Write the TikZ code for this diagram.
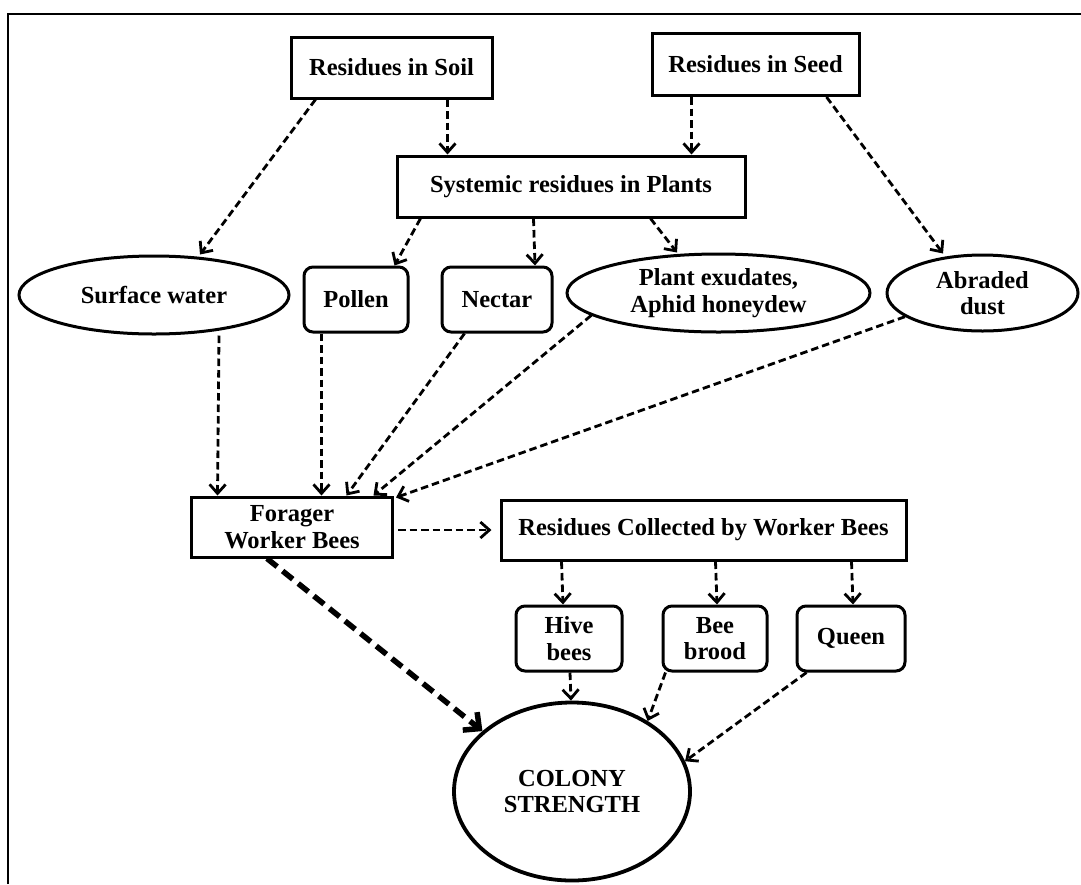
\documentclass[tikz,border=0pt]{standalone}
\usepackage{fontspec}
\setmainfont{Liberation Serif}
\usetikzlibrary{arrows.meta,shapes.geometric}
\begin{document}
\begin{tikzpicture}[x=1pt,y=-1pt,
  lbl/.style={font=\fontsize{24.5}{26.5}\selectfont\bfseries, align=center, inner sep=0pt, line width=3pt, draw, fill=white},
  sqbox/.style={lbl, rectangle},
  rbox/.style={lbl, rectangle, rounded corners=9pt},
  ell/.style={lbl, ellipse},
  arr/.style={line width=2.8pt, dash pattern=on 7.5pt off 4pt, -{Straight Barb[length=9pt,width=16pt]}},
  bigarr/.style={line width=5.5pt, dash pattern=on 13pt off 7pt, -{Straight Barb[length=12pt,width=23pt]}},
]
\useasboundingbox (0,0) rectangle (1081,884);
\fill[white] (0,0) rectangle (1081,884);
\draw[line width=2.2pt] (8,884) -- (8,14) -- (1081,14);

\node[sqbox, minimum width=201pt, minimum height=61pt] (soil) at (391.5,67.5) {Residues in Soil};
\node[sqbox, minimum width=207pt, minimum height=62pt] (seed) at (755.5,64.5) {Residues in Seed};
\node[sqbox, minimum width=348pt, minimum height=61pt] (sys) at (571,186.5) {Systemic residues in Plants};
\node[ell, minimum width=270pt, minimum height=78pt] (surf) at (154,295) {Surface water};
\node[rbox, minimum width=104pt, minimum height=65pt] (pollen) at (356,299.5) {Pollen};
\node[rbox, minimum width=110pt, minimum height=65pt] (nectar) at (497,299.5) {Nectar};
\node[ell, minimum width=303pt, minimum height=78pt] (plant) at (718.5,293) {Plant exudates,\\Aphid honeydew};
\node[ell, minimum width=191pt, minimum height=76pt] (dust) at (982.5,293) {Abraded\\dust};
\node[sqbox, minimum width=201pt, minimum height=60pt] (forager) at (292,527) {Forager\\Worker Bees};
\node[sqbox, minimum width=405pt, minimum height=60pt] (coll) at (703.5,530) {Residues Collected by Worker Bees};
\node[rbox, minimum width=106pt, minimum height=65pt] (hive) at (569,638.5) {Hive\\bees};
\node[rbox, minimum width=104pt, minimum height=65pt] (brood) at (715,638.5) {Bee\\brood};
\node[rbox, minimum width=108pt, minimum height=65pt] (queen) at (851,638.5) {Queen};
\node[ell, line width=3.8pt, minimum width=236pt, minimum height=178pt] (colony) at (572,791.5) {COLONY\\STRENGTH};

\draw[arr] ([xshift=26pt]soil.south west) -- ([xshift=46pt]surf.north);
\draw[arr] ([xshift=158pt]soil.south west) -- ([xshift=52pt]sys.north west);
\draw[arr] ([xshift=41pt]seed.south west) -- ([xshift=296pt]sys.north west);
\draw[arr] ([xshift=176pt]seed.south west) -- ([xshift=-39.5pt]dust.north);
\draw[arr] ([xshift=25pt]sys.south west) -- ([xshift=-15pt]pollen.north east);
\draw[arr] ([xshift=138pt]sys.south west) -- ([xshift=38pt]nectar.north);
\draw[arr] ([xshift=255pt]sys.south west) -- ([xshift=-41.5pt]plant.north);
\draw[arr] ([xshift=65pt]surf.south) -- ([xshift=27.5pt]forager.north west);
\draw[arr] ([xshift=19pt]pollen.south west) -- ([xshift=131.5pt]forager.north west);
\draw[arr] ([xshift=24pt]nectar.south west) -- ([xshift=156.5pt]forager.north west);
\draw[arr] (plant.190) -- ([xshift=183.5pt]forager.north west);
\draw[arr] (dust.197) -- ([xshift=2pt,yshift=-2pt]forager.north east);
\draw[arr] ([xshift=4pt,yshift=-3pt]forager.east) -- ([xshift=-8pt]coll.west);
\draw[arr] ([xshift=62pt]coll.south west) -- ([xshift=-6pt]hive.north);
\draw[arr] ([xshift=216pt]coll.south west) -- ([xshift=2pt]brood.north);
\draw[arr] ([xshift=352pt]coll.south west) -- ([xshift=2pt]queen.north);
\draw[arr] ([xshift=1pt]hive.south) -- ([xshift=-1pt]colony.north);
\draw[arr] ([xshift=4pt]brood.south west) -- (colony.43);
\draw[arr] ([xshift=11pt]queen.south west) -- (colony.15);
\draw[bigarr] ([xshift=77pt]forager.south west) -- (colony.146);
\end{tikzpicture}
\end{document}
